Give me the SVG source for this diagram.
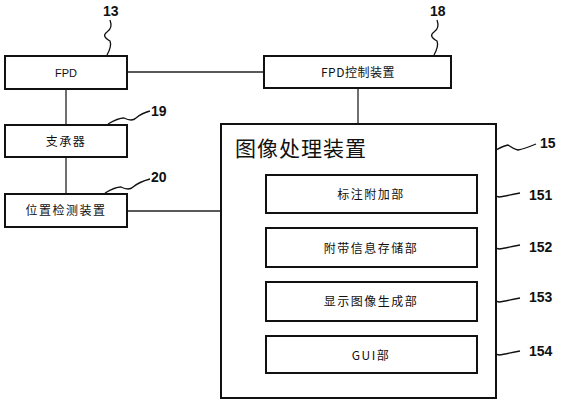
<svg xmlns="http://www.w3.org/2000/svg" width="562" height="400" viewBox="0 0 562 400">
<style>
.box{fill:#fff;stroke:#111;stroke-width:2}
.ln{fill:none;stroke:#222;stroke-width:1.3}
.lead{fill:none;stroke:#111;stroke-width:1.3}
.t{font-family:"Noto Sans CJK SC","Liberation Sans",sans-serif;font-size:12px;fill:#111;text-anchor:middle;letter-spacing:1.5px}
.num{font-family:"Liberation Sans",sans-serif;font-weight:bold;font-size:14px;fill:#111}
.title{font-family:"Noto Sans CJK SC",sans-serif;font-size:21px;fill:#111;letter-spacing:1px}
</style>
<rect width="562" height="400" fill="#fff"/>
<g id="connectors">
<line class="ln" x1="127" y1="72" x2="264" y2="72"/>
<line class="ln" x1="66" y1="89" x2="66" y2="125"/>
<line class="ln" x1="66" y1="157" x2="66" y2="194"/>
<line class="ln" x1="127" y1="211" x2="221" y2="211"/>
<line class="ln" x1="358" y1="88" x2="358" y2="124"/>
<line class="ln" x1="246" y1="162" x2="246" y2="387"/>
<line class="ln" x1="246" y1="194" x2="266" y2="194"/>
<line class="ln" x1="246" y1="249" x2="266" y2="249"/>
<line class="ln" x1="246" y1="302" x2="266" y2="302"/>
<line class="ln" x1="246" y1="354" x2="266" y2="354"/>
</g>
<g id="leads">
<path class="lead" d="M107,55 Q112,46 110,41 Q101,36 107,32 Q113,28 110,20"/>
<text class="num" x="103" y="16">13</text>
<path class="lead" d="M434,55 Q439,46 437,41 Q428,36 434,32 Q440,28 437,20"/>
<text class="num" x="430" y="16">18</text>
<path class="lead" d="M108,124 Q118,118 124,118 Q132,122 136,118 Q142,113 150,111"/>
<text class="num" x="151" y="116">19</text>
<path class="lead" d="M105,193 Q115,187 121,187 Q129,191 133,187 Q139,182 150,179"/>
<text class="num" x="151" y="182">20</text>
<path class="lead" d="M496,150 Q503,146 508,145 Q514,149 518,150 Q524,149 536,144"/>
<text class="num" x="540" y="148">15</text>
<path class="lead" d="M477,197 Q484,193 489,192 Q495,196 499,197 Q505,196 520,193"/>
<text class="num" x="529" y="200">151</text>
<path class="lead" d="M477,249 Q484,245 489,244 Q495,248 499,249 Q505,248 520,245"/>
<text class="num" x="529" y="252">152</text>
<path class="lead" d="M477,302 Q484,298 489,297 Q495,301 499,302 Q505,301 520,298"/>
<text class="num" x="529" y="302">153</text>
<path class="lead" d="M477,355 Q484,351 489,350 Q495,354 499,355 Q505,354 520,351"/>
<text class="num" x="529" y="356">154</text>
</g>
<g id="fpd">
<rect class="box" x="5" y="56" width="122" height="33"/>
<text class="t" x="66" y="77" style="font-family:'Liberation Sans',sans-serif;font-size:11px;letter-spacing:0">FPD</text>
</g>
<g id="fpd-control">
<rect class="box" x="264" y="56" width="187" height="32"/>
<text class="t" x="358" y="77" style="letter-spacing:0.5px">FPD控制装置</text>
</g>
<g id="support">
<rect class="box" x="5" y="125" width="122" height="32"/>
<text class="t" x="66" y="146">支承器</text>
</g>
<g id="position">
<rect class="box" x="5" y="194" width="122" height="33"/>
<text class="t" x="66" y="215">位置检测装置</text>
</g>
<g id="image-processing">
<rect class="box" x="221" y="124" width="275" height="274"/>
<text class="title" x="235" y="156">图像处理装置</text>
</g>
<g id="n151">
<rect class="box" x="266" y="175" width="211" height="38"/>
<text class="t" x="371" y="199">标注附加部</text>
</g>
<g id="n152">
<rect class="box" x="266" y="228" width="211" height="39"/>
<text class="t" x="371" y="253">附带信息存储部</text>
</g>
<g id="n153">
<rect class="box" x="266" y="282" width="211" height="39"/>
<text class="t" x="371" y="306">显示图像生成部</text>
</g>
<g id="n154">
<rect class="box" x="266" y="336" width="211" height="37"/>
<text class="t" x="371" y="360">GUI部</text>
</g>
</svg>
